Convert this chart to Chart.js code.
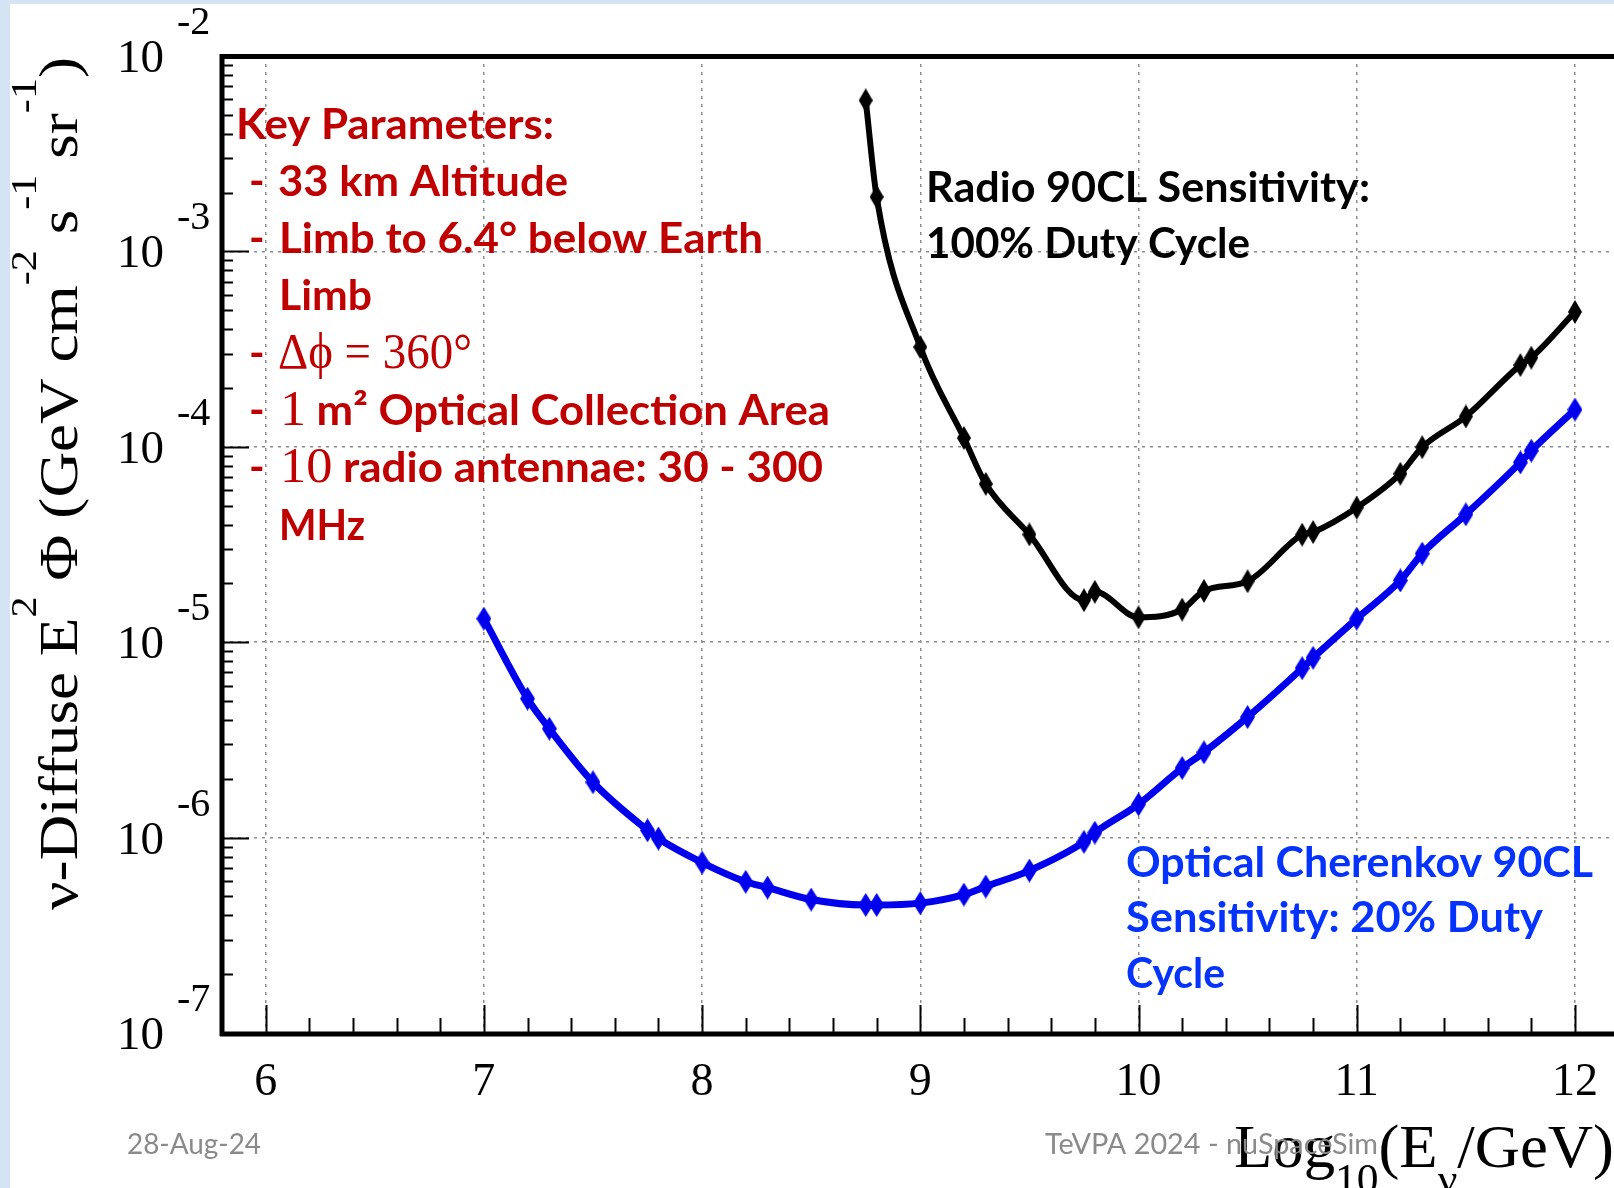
<!DOCTYPE html>
<html>
<head>
<meta charset="utf-8">
<script src="https://cdn.jsdelivr.net/npm/chart.js@4.4.1/dist/chart.umd.min.js"></script>
<style>
html,body{margin:0;padding:0;background:#fff;overflow:hidden;}
canvas{display:block;}
</style>
</head>
<body>
<canvas id="c" width="1614" height="1188"></canvas>
<script>
// ---- data (log10 energy in GeV, diffuse flux in GeV cm^-2 s^-1 sr^-1) ----
const energyRadio = [8.75, 8.8, 9.0, 9.2, 9.3, 9.5, 9.75, 9.8, 10.0, 10.2, 10.3, 10.5, 10.75, 10.8, 11.0, 11.2, 11.3, 11.5, 11.75, 11.8, 12.0];
const fluxRadio = [5.93e-3, 1.90e-3, 3.24e-4, 1.11e-4, 6.46e-5, 3.56e-5, 1.64e-5, 1.81e-5, 1.34e-5, 1.47e-5, 1.83e-5, 2.05e-5, 3.55e-5, 3.66e-5, 4.88e-5, 7.28e-5, 9.95e-5, 1.43e-4, 2.62e-4, 2.86e-4, 4.90e-4];

const energyOptical = [7.0, 7.2, 7.3, 7.5, 7.75, 7.8, 8.0, 8.2, 8.3, 8.5, 8.75, 8.8, 9.0, 9.2, 9.3, 9.5, 9.75, 9.8, 10.0, 10.2, 10.3, 10.5, 10.75, 10.8, 11.0, 11.2, 11.3, 11.5, 11.75, 11.8, 12.0];
const fluxOptical = [1.32e-5, 5.14e-6, 3.61e-6, 1.92e-6, 1.09e-6, 9.89e-7, 7.45e-7, 5.94e-7, 5.55e-7, 4.82e-7, 4.52e-7, 4.52e-7, 4.62e-7, 5.11e-7, 5.62e-7, 6.78e-7, 9.51e-7, 1.06e-6, 1.48e-6, 2.27e-6, 2.73e-6, 4.14e-6, 7.36e-6, 8.32e-6, 1.32e-5, 2.07e-5, 2.84e-5, 4.51e-5, 8.32e-5, 9.55e-5, 1.55e-4];

const xTickValues = [6, 7, 8, 9, 10, 11, 12];
const xTickLabels = ['6', '7', '8', '9', '10', '11', '12'];
const yTickValues = [1e-7, 1e-6, 1e-5, 1e-4, 1e-3, 1e-2];
const yTickExponents = ['-7', '-6', '-5', '-4', '-3', '-2'];

const xTitle = [['Log', 'main'], ['10', 'sub'], ['(E', 'main'], ['\u03BD', 'sub'], ['/GeV)', 'main']];
const yTitle = [['\u03BD-Diffuse E', 'main'], ['2', 'sup'], [' \u03A6 (GeV cm', 'main'], ['-2', 'sup'], [' s', 'main'], ['-1', 'sup'], [' sr', 'main'], ['-1', 'sup'], [')', 'main']];

const keyLines = [
  { dash: false, segs: [['Key Parameters:', 'b']] },
  { dash: true,  segs: [['33 km Altitude', 'b']] },
  { dash: true,  segs: [['Limb to 6.4\u00B0 below Earth', 'b']] },
  { dash: false, segs: [['Limb', 'b']] },
  { dash: true,  segs: [['\u0394\u03D5 = 360\u00B0', 's']] },
  { dash: true,  segs: [['1', 's'], [' m\u00B2 Optical Collection Area', 'b']] },
  { dash: true,  segs: [['10', 's'], [' radio antennae: 30 - 300', 'b']] },
  { dash: false, segs: [['MHz', 'b']] }
];
const radioLabel = ['Radio 90CL Sensitivity:', '100% Duty Cycle'];
const opticalLabel = ['Optical Cherenkov 90CL', 'Sensitivity: 20% Duty', 'Cycle'];
const footerDate = '28-Aug-24';
const footerTalk = 'TeVPA 2024 - nuSpaceSim';

// ---- helpers ----
function diamond(color, w, h) {
  const c = document.createElement('canvas');
  c.width = w; c.height = h;
  const g = c.getContext('2d');
  g.fillStyle = color;
  g.beginPath();
  g.moveTo(w / 2, 0); g.lineTo(w, h / 2); g.lineTo(w / 2, h); g.lineTo(0, h / 2);
  g.closePath(); g.fill();
  return c;
}

// draw a run of segments, squeezed/stretched to a target width
function rich(ctx, segs, x, y, targetW, color, rot) {
  let total = 0; const ws = [];
  for (const s of segs) { ctx.font = s.f; const w = ctx.measureText(s.t).width; ws.push(w); total += w; }
  const sx = targetW ? targetW / total : 1;
  ctx.save();
  ctx.translate(x, y);
  if (rot) ctx.rotate(rot);
  ctx.scale(sx, 1);
  ctx.textAlign = 'left'; ctx.textBaseline = 'alphabetic';
  let cx = 0;
  segs.forEach((s, i) => {
    ctx.font = s.f; ctx.fillStyle = color;
    ctx.fillText(s.t, cx, s.dy || 0);
    cx += ws[i];
  });
  ctx.restore();
}

const SERIF = '"Liberation Serif", "Times New Roman", serif';
const SANS = 'Lato, "Open Sans", sans-serif';

const bgPlugin = {
  id: 'bg',
  beforeDraw(chart) {
    const ctx = chart.ctx;
    ctx.save();
    ctx.fillStyle = '#ffffff';
    ctx.fillRect(0, 0, chart.width, chart.height);
    ctx.fillStyle = '#d4e4f4';
    ctx.fillRect(0, 0, 10, chart.height);
    ctx.fillRect(0, 0, chart.width, 4);
    ctx.restore();
  }
};

const framePlugin = {
  id: 'frame',
  afterDraw(chart) {
    const ctx = chart.ctx;
    const a = chart.chartArea;
    const xs = chart.scales.x, ys = chart.scales.y;
    ctx.save();

    // minor / major inward ticks
    ctx.strokeStyle = '#000';
    ctx.lineWidth = 2;
    ctx.beginPath();
    for (let d = -7; d < -2; d++) {
      for (let m = 1; m <= 9; m++) {
        const v = m * Math.pow(10, d);
        const py = Math.round(ys.getPixelForValue(v)) + 0.5;
        const len = m === 1 ? 27 : 11;
        ctx.moveTo(a.left, py); ctx.lineTo(a.left + len, py);
      }
    }
    for (let k = 0; k <= 32; k++) {
      const v = 5.8 + k * 0.2;
      if (v > xs.max) break;
      const px = Math.round(xs.getPixelForValue(v)) + 0.5;
      const isMajor = Math.abs(v - Math.round(v)) < 1e-6;
      const len = isMajor ? 28 : 15;
      ctx.moveTo(px, a.bottom); ctx.lineTo(px, a.bottom - len);
    }
    ctx.stroke();

    // thick frame
    ctx.lineWidth = 5;
    ctx.beginPath();
    ctx.moveTo(a.left - 2, a.top + 0.5); ctx.lineTo(chart.width, a.top + 0.5);
    ctx.moveTo(a.left, a.top - 2); ctx.lineTo(a.left, a.bottom + 3);
    ctx.moveTo(a.left - 2, a.bottom + 1); ctx.lineTo(chart.width, a.bottom + 1);
    ctx.stroke();

    // y tick labels 10^n
    ctx.fillStyle = '#000';
    ctx.textBaseline = 'alphabetic';
    yTickValues.forEach((v, i) => {
      const py = ys.getPixelForValue(v);
      ctx.font = '47px ' + SERIF;
      ctx.textAlign = 'right';
      ctx.fillText('10', 164, py + 16);
      ctx.font = '40px ' + SERIF;
      ctx.textAlign = 'left';
      ctx.fillText(yTickExponents[i], 177, py - 22);
    });
    // x tick labels
    ctx.font = '46px ' + SERIF;
    ctx.textAlign = 'center';
    xTickValues.forEach((v, i) => {
      ctx.fillText(xTickLabels[i], xs.getPixelForValue(v), 1095);
    });

    // axis titles
    const fontOf = (k, big, small) => (k === 'main' ? big : small);
    rich(ctx, xTitle.map(([t, k]) => ({ t, f: fontOf(k, '62px ' + SERIF, '43px ' + SERIF), dy: k === 'sub' ? 26 : 0 })),
      1234, 1167, 380, '#000');
    rich(ctx, yTitle.map(([t, k]) => ({ t, f: fontOf(k, '54px ' + SERIF, '36px ' + SERIF), dy: k === 'sup' ? -41 : 0 })),
      77, 910, 853, '#000', -Math.PI / 2);

    // key parameters (red)
    const red = '#c00000';
    const keyX = [236, 278, 279, 279, 278, 280, 280, 279];
    const keyR = [554, 568, 763, 372, 472, 830, 823, 365];
    const base0 = 138.5, step = 57.3;
    keyLines.forEach((ln, i) => {
      const by = base0 + step * i;
      if (ln.dash) {
        ctx.font = 'bold 42px ' + SANS; ctx.fillStyle = red; ctx.textAlign = 'left';
        ctx.fillText('-', 249, by);
      }
      const segs = ln.segs.map(([t, k]) => ({ t, f: k === 'b' ? 'bold 42px ' + SANS : '50px ' + SERIF }));
      rich(ctx, segs, keyX[i], by, keyR[i] - keyX[i], red);
    });

    // radio label (black)
    const rW = [444, 324];
    radioLabel.forEach((t, i) => rich(ctx, [{ t, f: 'bold 42px ' + SANS }], 926, 202.4 + 55.8 * i, rW[i], '#000'));
    // optical label (blue)
    const oW = [467, 417, 99];
    opticalLabel.forEach((t, i) => rich(ctx, [{ t, f: 'bold 42px ' + SANS }], 1126, 876.7 + 55.7 * i, oW[i], '#0433ff'));

    // footer
    rich(ctx, [{ t: footerDate, f: '29px ' + SANS }], 127, 1154, 134, '#8a8a8a');
    rich(ctx, [{ t: footerTalk, f: '29px ' + SANS }], 1045, 1154, 333, '#8a8a8a');

    ctx.restore();
  }
};

const gridColor = '#8c8c8c';

new Chart(document.getElementById('c'), {
  type: 'scatter',
  data: {
    datasets: [
      {
        label: 'Radio 90CL Sensitivity: 100% Duty Cycle',
        data: energyRadio.map((e, i) => ({ x: e, y: fluxRadio[i] })),
        showLine: true,
        borderColor: '#000000',
        backgroundColor: '#000000',
        borderWidth: 6,
        pointStyle: diamond('#000000', 14, 24),
        pointRadius: 8,
        pointHoverRadius: 8,
        cubicInterpolationMode: 'monotone'
      },
      {
        label: 'Optical Cherenkov 90CL Sensitivity: 20% Duty Cycle',
        data: energyOptical.map((e, i) => ({ x: e, y: fluxOptical[i] })),
        showLine: true,
        borderColor: '#0000ee',
        backgroundColor: '#0000ee',
        borderWidth: 7,
        pointStyle: diamond('#0000ee', 15, 24),
        pointRadius: 8,
        pointHoverRadius: 8,
        cubicInterpolationMode: 'monotone'
      }
    ]
  },
  options: {
    responsive: false,
    animation: false,
    devicePixelRatio: 1,
    events: [],
    layout: { autoPadding: false, padding: { top: 56, right: 0, bottom: 0, left: 0 } },
    plugins: { legend: { display: false }, tooltip: { enabled: false } },
    scales: {
      x: {
        type: 'linear', min: 5.8, max: 12.179,
        afterBuildTicks: (s) => { s.ticks = xTickValues.map(v => ({ value: v })); },
        afterFit: (s) => { s.height = 155; },
        ticks: { display: false },
        grid: { color: gridColor, lineWidth: 1.5, drawTicks: false },
        border: { display: false, dash: [3, 5] }
      },
      y: {
        type: 'logarithmic', min: 1e-7, max: 1e-2,
        afterBuildTicks: (s) => { s.ticks = yTickValues.map(v => ({ value: v })); },
        afterFit: (s) => { s.width = 222; },
        ticks: { display: false },
        grid: { color: gridColor, lineWidth: 1.5, drawTicks: false },
        border: { display: false, dash: [3, 5] }
      }
    }
  },
  plugins: [bgPlugin, framePlugin]
});
</script>
</body>
</html>
